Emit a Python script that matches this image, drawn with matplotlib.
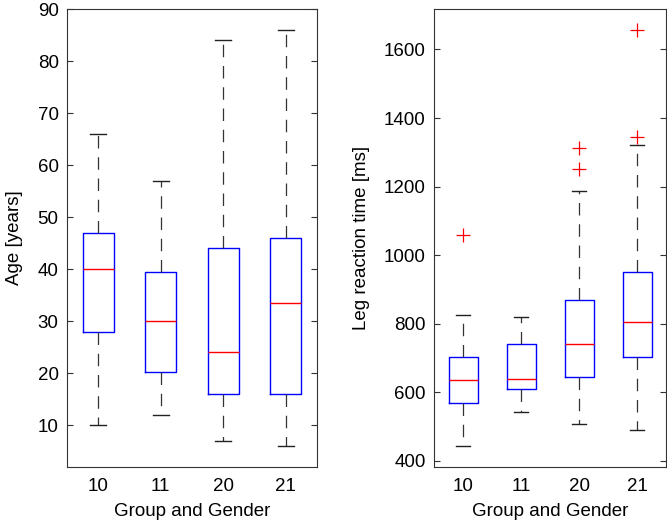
import matplotlib
matplotlib.use('Agg')
from matplotlib import pyplot as plt

plt.rcParams['font.family'] = ['Liberation Sans', 'DejaVu Sans']

groups = ['10', '11', '20', '21']

# age [years]
age_low = [10, 12, 7, 6]
age_q1 = [28, 20.3, 16, 16]
age_med = [40, 30, 24, 33.6]
age_q3 = [47, 39.5, 44, 46]
age_high = [66, 57, 84, 86]
age_out = [[], [], [], []]

# leg reaction time [ms]
leg_low = [443, 543, 508, 490]
leg_q1 = [570, 610, 645, 702]
leg_med = [635, 638, 740, 805]
leg_q3 = [702, 740, 869, 952]
leg_high = [824, 821, 1187, 1320]
leg_out = [[1058], [], [1252, 1312], [1346, 1657]]

fs = 13.5


def make_stats(low, q1, med, q3, high, out):
  stats = []
  for i in range(len(groups)):
    stats.append({'whislo': low[i], 'q1': q1[i], 'med': med[i], 'q3': q3[i],
                  'whishi': high[i], 'fliers': out[i], 'label': groups[i]})
  return stats


def draw(ax, stats):
  ax.bxp(stats, widths=0.5, showfliers=True,
         boxprops=dict(color='blue', linewidth=1.0),
         medianprops=dict(color='red', linewidth=1.0),
         whiskerprops=dict(color='#333333', linewidth=0.9, linestyle=(0, (10, 7))),
         capprops=dict(color='#222222', linewidth=1.0),
         capwidths=0.25,
         flierprops=dict(marker='+', markeredgecolor='red', markersize=10, markeredgewidth=0.9))
  ax.set_xlim(0.5, 4.5)
  ax.set_xlabel('Group and Gender', fontsize=fs, labelpad=6)
  ax.tick_params(axis='y', direction='in', left=True, right=True, labelsize=fs, length=4,
                 color='#333333', pad=6)
  ax.tick_params(axis='x', length=0, labelsize=fs, pad=8)
  for s in ax.spines.values():
    s.set_color('#333333')


fig = plt.figure(figsize=(6.67, 5.27), dpi=100)
ax1 = fig.add_axes([67/667, 60/527, 250/667, 458/527])
ax2 = fig.add_axes([434/667, 60/527, 232/667, 458/527])

draw(ax1, make_stats(age_low, age_q1, age_med, age_q3, age_high, age_out))
ax1.set_ylim(2, 90)
ax1.set_yticks(range(10, 91, 10))
ax1.set_ylabel('Age [years]', fontsize=fs, labelpad=10.5)

draw(ax2, make_stats(leg_low, leg_q1, leg_med, leg_q3, leg_high, leg_out))
ax2.set_ylim(382, 1718)
ax2.set_yticks(range(400, 1601, 200))
ax2.set_ylabel('Leg reaction time [ms]', fontsize=fs, labelpad=10)

fig.savefig('out.png', dpi=100)
